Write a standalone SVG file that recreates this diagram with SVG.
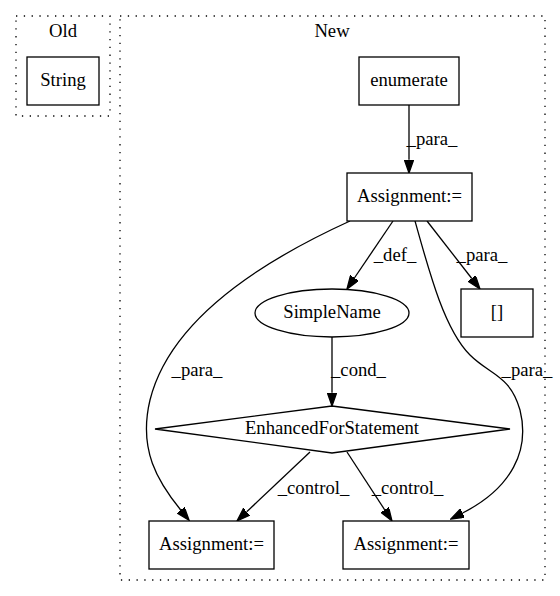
<svg xmlns="http://www.w3.org/2000/svg" width="560" height="596" viewBox="0 0 560 596">
<style>
text{font-family:"Liberation Serif","Times New Roman",serif;font-size:18.67px;fill:#000;text-anchor:middle}
.n{fill:#fff;stroke:#000;stroke-width:1.3}
.c{fill:none;stroke:#000;stroke-width:1.3;stroke-dasharray:1.3,6.5}
.e{fill:none;stroke:#000;stroke-width:1.3}
</style>
<defs>
<marker id="a" markerWidth="14" markerHeight="10" refX="0" refY="4.67" orient="auto" markerUnits="userSpaceOnUse">
<path d="M0,0 L13.3,4.67 L0,9.33 z" fill="#000" stroke="#000" stroke-width="1.3"/>
</marker>
</defs>
<rect width="560" height="596" fill="#fff"/>
<g id="cluster_old">
<rect class="c" x="16" y="16" width="94" height="100"/>
<text x="63" y="37">Old</text>
</g>
<g id="cluster_new">
<rect class="c" x="120" y="16" width="425" height="564"/>
<text x="332" y="37">New</text>
</g>
<g id="edges">
<path class="e" d="M409,105 L409,159.7" marker-end="url(#a)"/>
<text x="432" y="145">_para_</text>
<path class="e" d="M393,221 L354.4,278" marker-end="url(#a)"/>
<text x="395" y="261">_def_</text>
<path class="e" d="M427,221 L471.8,278.5" marker-end="url(#a)"/>
<text x="482" y="261">_para_</text>
<path class="e" d="M332,337 L332,392.7" marker-end="url(#a)"/>
<text x="358.5" y="376">_cond_</text>
<path class="e" d="M350,221 C260,262 170,320 150,400 C138,450 158,482 180.7,510" marker-end="url(#a)"/>
<text x="197" y="376">_para_</text>
<path class="e" d="M415,221 C430,275 445,330 470,355 C490,375 510,375 520,410 C530,450 512,488 462.6,513" marker-end="url(#a)"/>
<text x="527" y="376">_para_</text>
<path class="e" d="M310,452 L246.7,511.8" marker-end="url(#a)"/>
<text x="313.5" y="494">_control_</text>
<path class="e" d="M347,452 L384.7,509.8" marker-end="url(#a)"/>
<text x="407.5" y="494">_control_</text>
</g>
<g id="node_string">
<rect class="n" x="27" y="57" width="72" height="48"/>
<text x="63" y="86">String</text>
</g>
<g id="node_enumerate">
<rect class="n" x="359" y="57" width="100" height="48"/>
<text x="409" y="86">enumerate</text>
</g>
<g id="node_assign_top">
<rect class="n" x="347" y="173" width="125" height="48"/>
<text x="409.5" y="202">Assignment:=</text>
</g>
<g id="node_simplename">
<ellipse class="n" cx="332" cy="313" rx="77" ry="24"/>
<text x="332" y="318">SimpleName</text>
</g>
<g id="node_index">
<rect class="n" x="461" y="289" width="72" height="48"/>
<text x="497" y="318">[]</text>
</g>
<g id="node_for">
<polygon class="n" points="332,406 510,429 332,453 155,429"/>
<text x="332" y="434">EnhancedForStatement</text>
</g>
<g id="node_assign_left">
<rect class="n" x="149" y="521" width="125" height="48"/>
<text x="211.5" y="550">Assignment:=</text>
</g>
<g id="node_assign_right">
<rect class="n" x="343" y="521" width="126" height="48"/>
<text x="406" y="550">Assignment:=</text>
</g>
</svg>
